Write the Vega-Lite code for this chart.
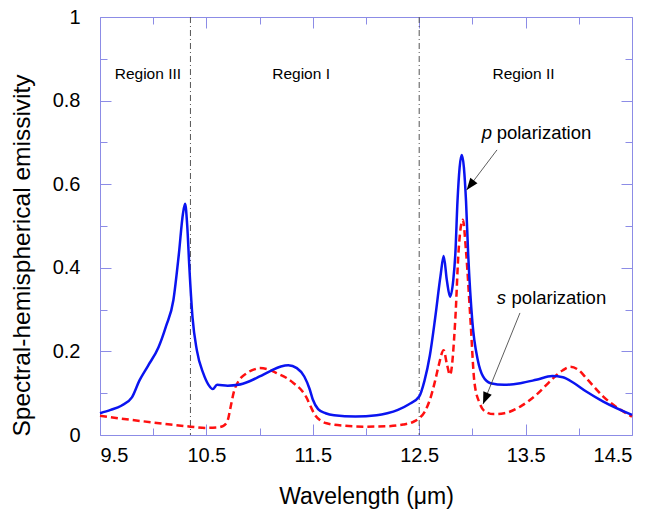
{
  "$schema": "https://vega.github.io/schema/vega-lite/v6.json",
  "width": 532,
  "height": 418,
  "autosize": "none",
  "padding": {"left": 100, "top": 17, "right": 21, "bottom": 79},
  "config": {
    "view": {"stroke": "#8c8ce6", "strokeWidth": 1},
    "font": "Liberation Sans",
    "axis": {"grid": false, "domain": false, "tickColor": "#8c8ce6", "tickWidth": 1, "labelColor": "#000", "titleColor": "#000", "labelFont": "Liberation Sans", "titleFont": "Liberation Sans", "titleFontWeight": "normal"}
  },
  "datasets": {
    "p": [
      {"x": 9.5, "y": 0.052}, {"x": 9.6, "y": 0.06}, {"x": 9.7, "y": 0.07}, {"x": 9.8, "y": 0.09},
      {"x": 9.87, "y": 0.13}, {"x": 9.95, "y": 0.165}, {"x": 10.05, "y": 0.21}, {"x": 10.12, "y": 0.26},
      {"x": 10.19, "y": 0.323}, {"x": 10.24, "y": 0.43}, {"x": 10.28, "y": 0.53}, {"x": 10.3, "y": 0.553},
      {"x": 10.32, "y": 0.5}, {"x": 10.34, "y": 0.4}, {"x": 10.37, "y": 0.28}, {"x": 10.41, "y": 0.203},
      {"x": 10.47, "y": 0.148}, {"x": 10.52, "y": 0.12}, {"x": 10.56, "y": 0.11}, {"x": 10.6, "y": 0.12},
      {"x": 10.7, "y": 0.118}, {"x": 10.8, "y": 0.12}, {"x": 10.9, "y": 0.128}, {"x": 11.0, "y": 0.14},
      {"x": 11.1, "y": 0.153}, {"x": 11.2, "y": 0.164}, {"x": 11.27, "y": 0.167}, {"x": 11.35, "y": 0.16},
      {"x": 11.42, "y": 0.14}, {"x": 11.47, "y": 0.11}, {"x": 11.5, "y": 0.085}, {"x": 11.55, "y": 0.062},
      {"x": 11.62, "y": 0.052}, {"x": 11.7, "y": 0.047}, {"x": 11.9, "y": 0.044}, {"x": 12.1, "y": 0.047},
      {"x": 12.2, "y": 0.052}, {"x": 12.3, "y": 0.06}, {"x": 12.4, "y": 0.073}, {"x": 12.5, "y": 0.092},
      {"x": 12.55, "y": 0.13}, {"x": 12.6, "y": 0.19}, {"x": 12.65, "y": 0.28}, {"x": 12.7, "y": 0.38},
      {"x": 12.73, "y": 0.428}, {"x": 12.76, "y": 0.37}, {"x": 12.79, "y": 0.331}, {"x": 12.82, "y": 0.37},
      {"x": 12.84, "y": 0.435}, {"x": 12.86, "y": 0.56}, {"x": 12.9, "y": 0.67}, {"x": 12.94, "y": 0.56},
      {"x": 12.96, "y": 0.435}, {"x": 13.0, "y": 0.27}, {"x": 13.05, "y": 0.18}, {"x": 13.1, "y": 0.14},
      {"x": 13.17, "y": 0.124}, {"x": 13.3, "y": 0.12}, {"x": 13.45, "y": 0.124}, {"x": 13.6, "y": 0.132},
      {"x": 13.75, "y": 0.141}, {"x": 13.85, "y": 0.138}, {"x": 13.95, "y": 0.125}, {"x": 14.07, "y": 0.104},
      {"x": 14.23, "y": 0.08}, {"x": 14.5, "y": 0.048}
    ],
    "s": [
      {"x": 9.5, "y": 0.046}, {"x": 9.8, "y": 0.036}, {"x": 10.1, "y": 0.027}, {"x": 10.35, "y": 0.02},
      {"x": 10.5, "y": 0.017}, {"x": 10.6, "y": 0.018}, {"x": 10.66, "y": 0.022}, {"x": 10.7, "y": 0.035},
      {"x": 10.73, "y": 0.07}, {"x": 10.76, "y": 0.105}, {"x": 10.8, "y": 0.128}, {"x": 10.88, "y": 0.148},
      {"x": 10.95, "y": 0.157}, {"x": 11.0, "y": 0.16}, {"x": 11.08, "y": 0.157}, {"x": 11.16, "y": 0.148},
      {"x": 11.25, "y": 0.137}, {"x": 11.32, "y": 0.124}, {"x": 11.4, "y": 0.105}, {"x": 11.44, "y": 0.09},
      {"x": 11.48, "y": 0.068}, {"x": 11.52, "y": 0.048}, {"x": 11.57, "y": 0.035}, {"x": 11.63, "y": 0.028},
      {"x": 11.8, "y": 0.022}, {"x": 12.0, "y": 0.02}, {"x": 12.2, "y": 0.021}, {"x": 12.35, "y": 0.025},
      {"x": 12.44, "y": 0.031}, {"x": 12.5, "y": 0.04}, {"x": 12.55, "y": 0.055}, {"x": 12.6, "y": 0.084},
      {"x": 12.65, "y": 0.13}, {"x": 12.68, "y": 0.163}, {"x": 12.73, "y": 0.203}, {"x": 12.76, "y": 0.17},
      {"x": 12.79, "y": 0.144}, {"x": 12.84, "y": 0.28}, {"x": 12.87, "y": 0.44}, {"x": 12.91, "y": 0.515},
      {"x": 12.94, "y": 0.44}, {"x": 12.98, "y": 0.283}, {"x": 13.02, "y": 0.124}, {"x": 13.07, "y": 0.075},
      {"x": 13.12, "y": 0.056}, {"x": 13.2, "y": 0.05}, {"x": 13.3, "y": 0.052}, {"x": 13.45, "y": 0.068},
      {"x": 13.6, "y": 0.096}, {"x": 13.76, "y": 0.136}, {"x": 13.85, "y": 0.155}, {"x": 13.92, "y": 0.163},
      {"x": 14.0, "y": 0.155}, {"x": 14.07, "y": 0.136}, {"x": 14.23, "y": 0.092}, {"x": 14.5, "y": 0.044}
    ],
    "regions": [{"x": 10.35}, {"x": 12.5}],
    "labels": [
      {"x": 9.95, "y": 0.852, "text": "Region III"},
      {"x": 11.39, "y": 0.852, "text": "Region I"},
      {"x": 13.48, "y": 0.852, "text": "Region II"}
    ],
    "pol": [
      {"x": 13.087, "y": 0.707, "name": "p", "text": "polarization", "x2": 13.228},
      {"x": 13.228, "y": 0.3127, "name": "s", "text": "polarization", "x2": 13.368}
    ],
    "arrows": [
      {"name": "p", "x": 13.231, "y": 0.682, "x2": 12.946, "y2": 0.586},
      {"name": "s", "x": 13.447, "y": 0.292, "x2": 13.1, "y2": 0.074}
    ]
  },
  "layer": [
    {
      "data": {"name": "regions"},
      "mark": {"type": "rule", "color": "#555555", "strokeWidth": 1, "strokeDash": [6, 3, 1, 3]},
      "encoding": {
        "x": {"field": "x", "type": "quantitative", "scale": {"domain": [9.5, 14.5]}, "axis": null}
      }
    },
    {
      "data": {"name": "s"},
      "mark": {"type": "line", "color": "#ff1010", "strokeWidth": 2.5, "strokeDash": [7, 4], "interpolate": "monotone"},
      "encoding": {
        "x": {"field": "x", "type": "quantitative", "scale": {"domain": [9.5, 14.5]},
          "axis": {"orient": "top", "values": [9.5, 10.5, 11.5, 12.5, 13.5, 14.5], "labels": false, "title": null, "tickSize": -11}},
        "y": {"field": "y", "type": "quantitative", "scale": {"domain": [0, 1]},
          "axis": {"orient": "right", "values": [0, 0.2, 0.4, 0.6, 0.8, 1], "labels": false, "title": null, "tickSize": -11}}
      }
    },
    {
      "data": {"name": "p"},
      "mark": {"type": "line", "color": "#0a14f0", "strokeWidth": 2.5, "interpolate": "monotone"},
      "encoding": {
        "x": {"field": "x", "type": "quantitative", "scale": {"domain": [9.5, 14.5]},
          "axis": {"orient": "bottom", "values": [9.5, 10.5, 11.5, 12.5, 13.5, 14.5], "labelExpr": "toString(datum.value)", "tickSize": -11,
            "labelFontSize": 20, "labelPadding": 21, "title": "Wavelength (μm)", "titleFontSize": 23,
            "titleBaseline": "alphabetic", "titleY": 68}},
        "y": {"field": "y", "type": "quantitative", "scale": {"domain": [0, 1]},
          "axis": {"orient": "left", "values": [0, 0.2, 0.4, 0.6, 0.8, 1], "labelExpr": "toString(datum.value)", "tickSize": -11,
            "labelFontSize": 20, "labelPadding": 31, "title": "Spectral-hemispherical emissivity", "titleFontSize": 24.5,
            "titleBaseline": "alphabetic", "titleX": -71, "titleY": 238}}
      }
    },
    {
      "data": {"name": "labels"},
      "mark": {"type": "text", "fontSize": 15.5, "baseline": "alphabetic", "align": "center", "color": "#000"},
      "encoding": {
        "x": {"field": "x", "type": "quantitative", "scale": {"domain": [9.5, 14.5]},
          "axis": {"orient": "bottom", "values": [10, 11, 12, 13, 14], "labels": false, "title": null, "tickSize": -7}},
        "y": {"field": "y", "type": "quantitative", "scale": {"domain": [0, 1]},
          "axis": {"orient": "left", "values": [0.1, 0.3, 0.5, 0.7, 0.9], "labels": false, "title": null, "tickSize": -7}},
        "text": {"field": "text"}
      }
    },
    {
      "data": {"name": "pol"},
      "mark": {"type": "text", "fontSize": 18.5, "baseline": "alphabetic", "align": "left", "fontStyle": "italic", "color": "#000"},
      "encoding": {
        "x": {"field": "x", "type": "quantitative", "scale": {"domain": [9.5, 14.5]},
          "axis": {"orient": "top", "values": [10, 11, 12, 13, 14], "labels": false, "title": null, "tickSize": -7}},
        "y": {"field": "y", "type": "quantitative", "scale": {"domain": [0, 1]},
          "axis": {"orient": "right", "values": [0.1, 0.3, 0.5, 0.7, 0.9], "labels": false, "title": null, "tickSize": -7}},
        "text": {"field": "name"}
      }
    },
    {
      "data": {"name": "pol"},
      "mark": {"type": "text", "fontSize": 18.5, "baseline": "alphabetic", "align": "left", "color": "#000"},
      "encoding": {
        "x": {"field": "x2", "type": "quantitative", "scale": {"domain": [9.5, 14.5]}, "axis": null},
        "y": {"field": "y", "type": "quantitative", "scale": {"domain": [0, 1]}, "axis": null},
        "text": {"field": "text"}
      }
    },
    {
      "data": {"name": "arrows"},
      "mark": {"type": "rule", "color": "#333333", "strokeWidth": 0.8},
      "encoding": {
        "x": {"field": "x", "type": "quantitative", "scale": {"domain": [9.5, 14.5]}, "axis": null},
        "y": {"field": "y", "type": "quantitative", "scale": {"domain": [0, 1]}, "axis": null},
        "x2": {"field": "x2"},
        "y2": {"field": "y2"}
      }
    },
    {
      "data": {"name": "arrows"},
      "transform": [{"filter": "datum.name == 'p'"}],
      "mark": {"type": "point", "shape": "M0,0L-0.75,2L0.75,2Z", "size": 144, "filled": true, "color": "#000", "opacity": 1, "angle": 217},
      "encoding": {
        "x": {"field": "x2", "type": "quantitative", "scale": {"domain": [9.5, 14.5]}, "axis": null},
        "y": {"field": "y2", "type": "quantitative", "scale": {"domain": [0, 1]}, "axis": null}
      }
    },
    {
      "data": {"name": "arrows"},
      "transform": [{"filter": "datum.name == 's'"}],
      "mark": {"type": "point", "shape": "M0,0L-0.75,2L0.75,2Z", "size": 144, "filled": true, "color": "#000", "opacity": 1, "angle": 202},
      "encoding": {
        "x": {"field": "x2", "type": "quantitative", "scale": {"domain": [9.5, 14.5]}, "axis": null},
        "y": {"field": "y2", "type": "quantitative", "scale": {"domain": [0, 1]}, "axis": null}
      }
    }
  ],
  "resolve": {"axis": {"x": "independent", "y": "independent"}}
}
